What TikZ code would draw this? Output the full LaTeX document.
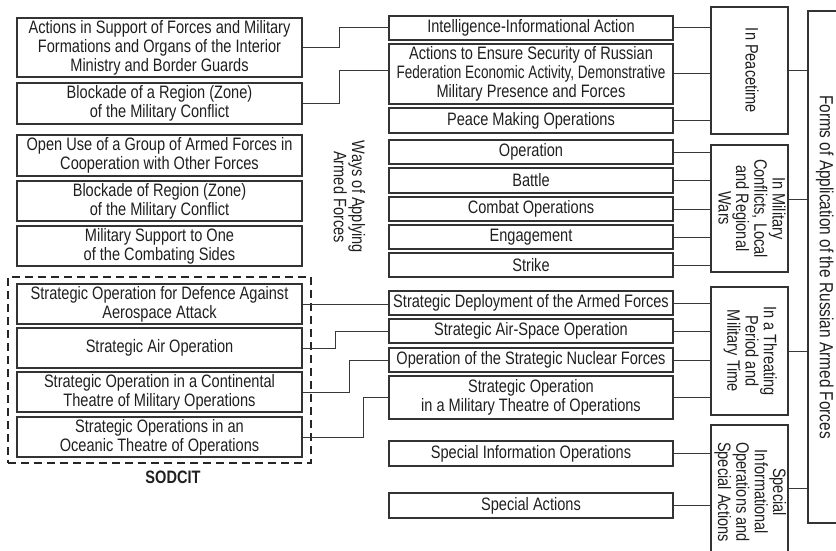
\documentclass[tikz,border=0pt]{standalone}
\usepackage{fontspec}
\setmainfont{Liberation Sans}[FakeStretch=0.81]
\usetikzlibrary{calc}
% vertical text block, read from top to bottom
\newcommand{\vtext}[1]{\rotatebox[origin=c]{-90}{\begin{tabular}{@{}c@{}}#1\end{tabular}}}
\begin{document}
\begin{tikzpicture}[x=1pt,y=-1pt,
  box/.style={draw=black!80, line width=1.1pt, rectangle, inner sep=0pt,
    align=center, text=black!88, font=\fontsize{18}{19}\selectfont},
  leftbox/.style={box, minimum width=285pt},
  midbox/.style={box, minimum width=284pt},
  grpbox/.style={box, minimum width=77pt, font=\fontsize{18}{17.5}\selectfont},
  link/.style={draw=black!78, line width=1pt},
  sodframe/.style={draw=black!85, line width=2.2pt, dash pattern=on 8pt off 5pt,
    inner sep=0pt, minimum width=303pt, minimum height=186pt}]
\useasboundingbox (0,0) rectangle (836,551);

% left column
\node[leftbox, minimum height=59pt] (b1) at (159.5,47.5) {Actions in Support of Forces and Military\\Formations and Organs of the Interior\\Ministry and Border Guards};
\node[leftbox, minimum height=41pt] (b2) at (159.5,103.5) {Blockade of a Region (Zone)\\of the Military Conflict};
\node[leftbox, minimum height=41pt] (b3) at (159.5,155.5) {Open Use of a Group of Armed Forces in\\Cooperation with Other Forces};
\node[leftbox, minimum height=40pt] (b4) at (159.5,201) {Blockade of Region (Zone)\\of the Military Conflict};
\node[leftbox, minimum height=40pt] (b5) at (159.5,246) {Military Support to One\\of the Combating Sides};
\node[leftbox, minimum height=40pt] (b6) at (159.5,304) {Strategic Operation for Defence Against\\Aerospace Attack};
\node[leftbox, minimum height=40pt] (b7) at (159.5,348) {Strategic Air Operation};
\node[leftbox, minimum height=40pt] (b8) at (159.5,392) {Strategic Operation in a Continental\\Theatre of Military Operations};
\node[leftbox, minimum height=40pt] (b9) at (159.5,437) {Strategic Operations in an\\Oceanic Theatre of Operations};

% SODCIT frame
\node[sodframe] (sod) at (159.5,370) {};
\node[font=\bfseries\fontsize{18}{19}\selectfont, text=black!88, inner sep=0pt] (sodlbl) at (173,477) {SODCIT};

% side caption
\node[inner sep=0pt, text=black!88, font=\fontsize{18}{17}\selectfont] (ways) at (347,197) {\vtext{Ways of Applying\\Armed Forces}};

% middle column
\node[midbox, minimum height=24pt] (intel) at (531,28) {Intelligence-Informational Action};
\node[midbox, minimum height=60pt] (secur) at (531,74) {Actions to Ensure Security of Russian\\\scalebox{0.93}[1]{Federation Economic Activity, Demonstrative}\\Military Presence and Forces};
\node[midbox, minimum height=25pt] (peace) at (531,120.5) {Peace Making Operations};
\node[midbox, minimum height=24pt] (oper) at (531,152) {Operation};
\node[midbox, minimum height=25pt] (battle) at (531,180.5) {Battle};
\node[midbox, minimum height=24pt] (combat) at (531,209) {Combat Operations};
\node[midbox, minimum height=24pt] (engage) at (531,237) {Engagement};
\node[midbox, minimum height=24pt] (strike) at (531,265) {Strike};
\node[midbox, minimum height=24pt] (deploy) at (531,303) {Strategic Deployment of the Armed Forces};
\node[midbox, minimum height=24pt] (airsp) at (531,331) {Strategic Air-Space Operation};
\node[midbox, minimum height=24pt] (nucl) at (531,360) {Operation of the Strategic Nuclear Forces};
\node[midbox, minimum height=43pt] (theat) at (531,397.5) {Strategic Operation\\in a Military Theatre of Operations};
\node[midbox, minimum height=25pt] (spinfo) at (531,453.5) {Special Information Operations};
\node[midbox, minimum height=25pt] (spact) at (531,505.5) {Special Actions};

% group boxes
\node[grpbox, minimum height=127pt] (gpeace) at (749.5,70.5) {\vtext{In Peacetime}};
\node[grpbox, minimum height=127pt] (gconf) at (749.5,208.5) {\vtext{In Military\\Conflicts, Local\\and Regional\\Wars}};
\node[grpbox, minimum height=128pt] (gthreat) at (749.5,351) {\vtext{In a Threating\\Period and\\Military Time}};
\node[grpbox, minimum height=134pt] (gspec) at (749.5,492) {\vtext{Special\\Informational\\Operations and\\Special Actions}};

% outer frame
\node[box, minimum width=32pt, minimum height=512pt, font=\fontsize{19}{19}\selectfont] (outer) at (824,267) {\vtext{Forms of Application of the Russian Armed Forces}};

% left column to middle column
\draw[link] (b1.east) -- ++(37,0) |- (intel.west);
\draw[link] (b2.east) -- ++(37,0) |- ([yshift=3pt]secur.west);
\draw[link] (b6.east) -- (b6.east -| deploy.west);
\draw[link] (b7.east) -- ++(33,0) |- (airsp.west);
\draw[link] (b8.east) -- ++(47,0) |- (nucl.west);
\draw[link] (b9.east) -- ++(61,0) |- (theat.west);

% middle column to groups
\foreach \n in {intel,secur,peace}
  \draw[link] (\n.east) -- (\n.east -| gpeace.west);
\foreach \n in {oper,battle,combat,engage,strike}
  \draw[link] (\n.east) -- (\n.east -| gconf.west);
\foreach \n in {deploy,airsp,nucl,theat}
  \draw[link] (\n.east) -- (\n.east -| gthreat.west);
\foreach \n in {spinfo,spact}
  \draw[link] (\n.east) -- (\n.east -| gspec.west);

% groups to outer frame
\draw[link] (gpeace.east) -- (gpeace.east -| outer.west);
\draw[link] ([yshift=9pt]gconf.east) -- ([yshift=9pt]gconf.east -| outer.west);
\draw[link] (gthreat.east) -- (gthreat.east -| outer.west);
\draw[link] ([yshift=4pt]gspec.east) -- ([yshift=4pt]gspec.east -| outer.west);
\end{tikzpicture}
\end{document}
